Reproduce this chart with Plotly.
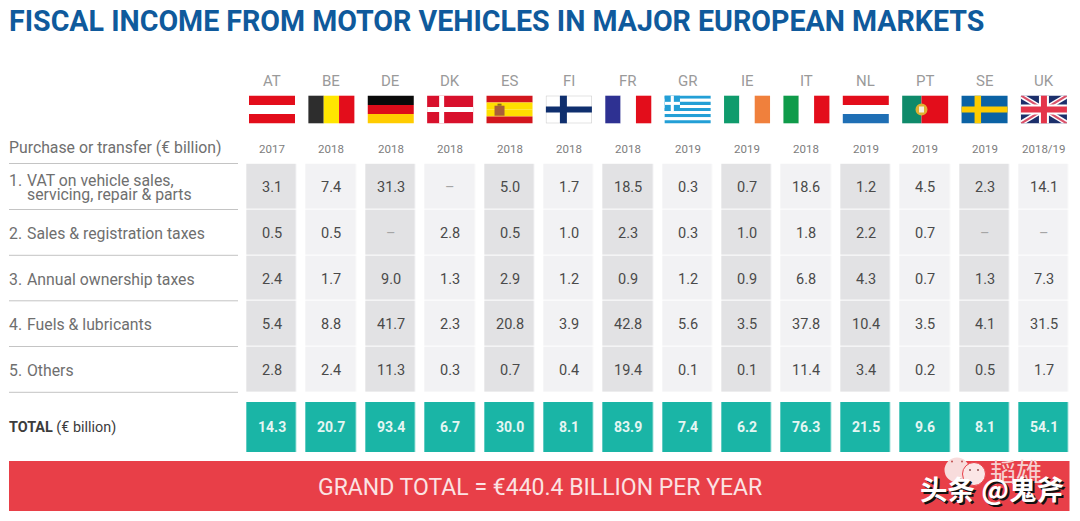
import plotly.graph_objects as go

W, H = 1080, 521

countries = ["AT", "BE", "DE", "DK", "ES", "FI", "FR", "GR", "IE", "IT", "NL", "PT", "SE", "UK"]
years = ["2017", "2018", "2018", "2018", "2018", "2018", "2018", "2019", "2019", "2018", "2019", "2019", "2019", "2018/19"]
rows = ["VAT", "Sales", "Ownership", "Fuels", "Others"]

vat = [3.1, 7.4, 31.3, None, 5.0, 1.7, 18.5, 0.3, 0.7, 18.6, 1.2, 4.5, 2.3, 14.1]
sales = [0.5, 0.5, None, 2.8, 0.5, 1.0, 2.3, 0.3, 1.0, 1.8, 2.2, 0.7, None, None]
ownership = [2.4, 1.7, 9.0, 1.3, 2.9, 1.2, 0.9, 1.2, 0.9, 6.8, 4.3, 0.7, 1.3, 7.3]
fuels = [5.4, 8.8, 41.7, 2.3, 20.8, 3.9, 42.8, 5.6, 3.5, 37.8, 10.4, 3.5, 4.1, 31.5]
others = [2.8, 2.4, 11.3, 0.3, 0.7, 0.4, 19.4, 0.1, 0.1, 11.4, 3.4, 0.2, 0.5, 1.7]
totals = [14.3, 20.7, 93.4, 6.7, 30.0, 8.1, 83.9, 7.4, 6.2, 76.3, 21.5, 9.6, 8.1, 54.1]
table = [vat, sales, ownership, fuels, others]

row_labels = [("1.", ["VAT on vehicle sales,", "servicing, repair &amp; parts"]),
              ("2.", ["Sales &amp; registration taxes"]),
              ("3.", ["Annual ownership taxes"]),
              ("4.", ["Fuels &amp; lubricants"]),
              ("5.", ["Others"])]

FONT = "Roboto"
CJK = "Noto Sans CJK SC"
STEP = 59.38


def px(x):
    return x / W


def py(y):
    return 1 - y / H


def rect(x0, y0, x1, y1, color):
    return dict(type="rect", xref="paper", yref="paper", x0=px(x0), x1=px(x1), y0=py(y0), y1=py(y1),
                fillcolor=color, line_width=0, layer="above")


def circle(cx, cy, r, color, line=None):
    return dict(type="circle", xref="paper", yref="paper", x0=px(cx - r), x1=px(cx + r), y0=py(cy + r),
                y1=py(cy - r), fillcolor=color, line=dict(color=line, width=1) if line else dict(width=0),
                layer="above")


def path_shape(points, color):
    d = "M" + " L".join(f"{px(a):.5f},{py(b):.5f}" for a, b in points) + " Z"
    return dict(type="path", xref="paper", yref="paper", path=d, fillcolor=color, line_width=0, layer="above")


def flag_shapes(i, code):
    # flag box in pixels
    x, y, w, h = 249 + i * STEP, 95.7, 46, 27.6
    RED = "#e30d1b"
    out = []

    def hs(cols):
        for k, c in enumerate(cols):
            out.append(rect(x, y + h * k / len(cols), x + w, y + h * (k + 1) / len(cols), c))

    def vs(cols):
        for k, c in enumerate(cols):
            out.append(rect(x + w * k / len(cols), y, x + w * (k + 1) / len(cols), y + h, c))

    if code == "AT":
        hs([RED, "#ffffff", RED])
    elif code == "BE":
        vs(["#2d2d2d", "#ffe600", RED])
    elif code == "DE":
        hs(["#0a0a0a", "#dd0c1a", "#ffcc00"])
    elif code == "DK":
        out.append(rect(x, y, x + w, y + h, "#d8102c"))
        out.append(rect(x + 12, y, x + 17, y + h, "#ffffff"))
        out.append(rect(x, y + 11.2, x + w, y + 16.2, "#ffffff"))
    elif code == "ES":
        hs(["#d2161e", "#ffdf00", "#ffdf00", "#d2161e"])
        out.append(rect(x + 8, y + 10, x + 18, y + 20, "#a8603a"))
        out.append(rect(x + 11, y + 8, x + 15, y + 10, "#8a6a1e"))
    elif code == "FI":
        out.append(rect(x, y, x + w, y + h, "#c8c8c8"))
        out.append(rect(x + 0.5, y + 0.5, x + w - 0.5, y + h - 0.5, "#ffffff"))
        out.append(rect(x + 14, y, x + 21, y + h, "#0f2f6e"))
        out.append(rect(x, y + 10.8, x + w, y + 16.8, "#0f2f6e"))
    elif code == "FR":
        vs(["#2e3192", "#ffffff", "#e30d1b"])
    elif code == "GR":
        BLUE = "#239fd6"
        for k in range(9):
            col = BLUE if k % 2 == 0 else "#ffffff"
            out.append(rect(x, y + h * k / 9, x + w, y + h * (k + 1) / 9, col))
        out.append(rect(x, y, x + 15.3, y + h * 5 / 9, BLUE))
        out.append(rect(x + 6.1, y, x + 9.2, y + h * 5 / 9, "#ffffff"))
        out.append(rect(x, y + h * 2 / 9, x + 15.3, y + h * 3 / 9, "#ffffff"))
    elif code == "IE":
        vs(["#0f9b6c", "#ffffff", "#f0803c"])
    elif code == "IT":
        vs(["#0f9b4a", "#ffffff", "#e30d1b"])
    elif code == "NL":
        hs([RED, "#ffffff", "#1f6fb5"])
    elif code == "PT":
        out.append(rect(x, y, x + w * 0.42, y + h, "#0f8a6a"))
        out.append(rect(x + w * 0.42, y, x + w, y + h, RED))
        cx, cy = x + w * 0.42, y + h / 2
        out.append(circle(cx, cy, 6, "#e0b030"))
        out.append(rect(cx - 2.5, cy - 3, cx + 2.5, cy + 3, "#f6eee0"))
    elif code == "SE":
        out.append(rect(x, y, x + w, y + h, "#0b62a4"))
        out.append(rect(x + 13, y, x + 19.5, y + h, "#fecb00"))
        out.append(rect(x, y + 10.8, x + w, y + 16.8, "#fecb00"))
    elif code == "UK":
        NAVY, WHITE = "#1c2f6b", "#ffffff"
        r = x + w
        b = y + h
        out.append(rect(x, y, r, b, NAVY))
        out.append(path_shape([(x, y), (x + 5, y), (r, b - 3), (r, b), (r - 5, b), (x, y + 3)], WHITE))
        out.append(path_shape([(r, y), (r - 5, y), (x, b - 3), (x, b), (x + 5, b), (r, y + 3)], WHITE))
        out.append(path_shape([(x, y), (x + 2.5, y), (r, b - 1), (r, b), (r - 2.5, b), (x, y + 1)], "#d9516a"))
        out.append(path_shape([(r, y), (r - 2.5, y), (x, b - 1), (x, b), (x + 2.5, b), (r, y + 1)], "#d9516a"))
        out.append(rect(x + w / 2 - 5, y, x + w / 2 + 5, b, WHITE))
        out.append(rect(x, y + h / 2 - 5, r, y + h / 2 + 5, WHITE))
        out.append(rect(x + w / 2 - 3, y, x + w / 2 + 3, b, "#e4354a"))
        out.append(rect(x, y + h / 2 - 3, r, y + h / 2 + 3, "#e4354a"))
    return out


fig = go.Figure()

# tax rows, columns banded dark/light
band = [[c % 2 for c in range(len(countries))] for _ in rows]
fig.add_trace(go.Heatmap(x=countries, y=rows, z=band, xgap=9.4, ygap=1, showscale=False, hoverinfo="skip",
                         zmin=0, zmax=1, colorscale=[[0, "#e2e2e4"], [1, "#f2f2f4"]],
                         xaxis="x", yaxis="y"))

# totals row
fig.add_trace(go.Heatmap(x=countries, y=["TOTAL"], z=[totals], xgap=9.4, showscale=False, hoverinfo="skip",
                         colorscale=[[0, "#1ab5a6"], [1, "#1ab5a6"]], xaxis="x2", yaxis="y2"))

x_dom = [(247 - 4.69) / W, (247 - 4.69 + STEP * 14) / W]
hidden = dict(showgrid=False, zeroline=False, showticklabels=False, ticks="", showline=False)
fig.update_layout(
    width=W, height=H, margin=dict(l=0, r=0, t=0, b=0), autosize=False,
    paper_bgcolor="white", plot_bgcolor="white", showlegend=False,
    xaxis=dict(domain=x_dom, type="category", categoryorder="array", categoryarray=countries,
               range=[-0.5, 13.5], **hidden),
    yaxis=dict(domain=[py(392.6), py(163.6)], type="category", categoryorder="array",
               categoryarray=rows[::-1], range=[-0.5, 4.5], **hidden),
    xaxis2=dict(domain=x_dom, type="category", categoryorder="array", categoryarray=countries,
                range=[-0.5, 13.5], anchor="y2", **hidden),
    yaxis2=dict(domain=[py(452), py(402)], type="category", range=[-0.5, 0.5], anchor="x2", **hidden),
)

shapes = []
annotations = []


def label(x, y, text, size, color, anchor="left", xref="paper", weight=None, family=FONT):
    # annotations sit 2px inside their anchor, so pull left-aligned ones back
    xshift = -2 if anchor == "left" else 0
    annotations.append(dict(xref=xref, yref="paper", x=px(x) if xref == "paper" else x, y=py(y), text=text,
                            showarrow=False, xanchor=anchor, yanchor="middle", xshift=xshift,
                            font=dict(family=family, size=size, color=color, weight=weight)))


# cell values
for r, values in zip(rows, table):
    for c, v in zip(countries, values):
        annotations.append(dict(xref="x", yref="y", x=c, y=r, showarrow=False, yshift=-1,
                                text="–" if v is None else f"{v:.1f}",
                                font=dict(family=FONT, size=14.5, color="#a5a5a5" if v is None else "#4a4a4a")))
for c, v in zip(countries, totals):
    annotations.append(dict(xref="x2", yref="y2", x=c, y="TOTAL", showarrow=False,
                            text=f"<b>{v:.1f}</b>", font=dict(family=FONT, size=14, color="#e4f6f3")))

# title
label(9, 21, "FISCAL INCOME FROM MOTOR VEHICLES IN MAJOR EUROPEAN MARKETS", 28.6, "#0f5a9c", weight=700)

# header: country code, flag, year
for i, (code, yr) in enumerate(zip(countries, years)):
    label(i, 81, code, 15, "#9a9a9a", "center", xref="x")
    label(i, 149, yr, 11.5, "#7d7d7d", "center", xref="x")
    shapes += flag_shapes(i, code)

label(9, 147, "Purchase or transfer (€ billion)", 15.8, "#6f6f6f")

# left column labels and rules
rule_y = [163.5, 209.5, 255.3, 300.8, 346.5, 392.3]
for y in rule_y:
    shapes.append(dict(type="line", xref="paper", yref="paper", x0=px(9), x1=px(238), y0=py(y), y1=py(y),
                       line=dict(color="#c4c4c4", width=1)))
for k, (num, lines) in enumerate(row_labels):
    mid = (rule_y[k] + rule_y[k + 1]) / 2 + 1
    if len(lines) == 2:
        label(9, mid - 7.5, num, 15.8, "#6f6f6f")
        label(27, mid - 7.5, lines[0], 15.8, "#6f6f6f")
        label(27, mid + 7.5, lines[1], 15.8, "#6f6f6f")
    else:
        label(9, mid, num, 15.8, "#6f6f6f")
        label(27, mid, lines[0], 15.8, "#6f6f6f")

label(9, 427, "<b>TOTAL</b> (€ billion)", 14.4, "#3c3c3c")

# grand total band
shapes.append(rect(9, 461, 1069.5, 511, "#e83f48"))
label(539.5, 487, "GRAND TOTAL = €440.4 BILLION PER YEAR", 23, "#fbe3e3", "center")

# watermark
shapes.append(circle(957, 470, 12.5, "#f8dcdc"))
shapes.append(circle(974, 474, 11.5, "#fbe6e6", line="#e83f48"))
for ex, ey, col in [(952, 461.5, "#c05050"), (962, 461.5, "#c05050"), (970, 470, "#8a5050"), (978, 470, "#8a5050")]:
    shapes.append(circle(ex, ey, 1, col))
label(990, 470, "韬雄", 26, "#f6d0d0", family=CJK)
label(921.5, 489.5, "头条 @鬼斧", 27.5, "#111111", family=CJK, weight=700)
label(920, 488, "头条 @鬼斧", 27.5, "#ffffff", family=CJK, weight=700)

fig.update_layout(shapes=shapes, annotations=annotations)
# plotly's page keeps the browser's 8px body margin, drop it so the figure fills the window
fig.write_html("out.html", config={"displayModeBar": False},
               post_script="document.body.style.margin='0';")
